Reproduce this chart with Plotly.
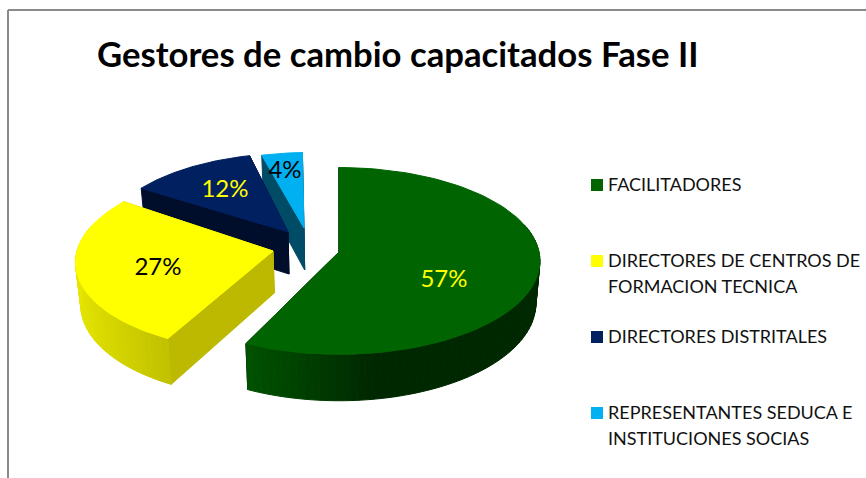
import numpy as np
import plotly.graph_objects as go

# ---- data ----
categories = ["FACILITADORES", "DIRECTORES DE CENTROS DE FORMACION TECNICA",
              "DIRECTORES DISTRITALES", "REPRESENTANTES SEDUCA E INSTITUCIONES SOCIAS"]
values = [57, 27, 12, 4]
title = "Gestores de cambio capacitados Fase II"
legend_lines = [["FACILITADORES"],
                ["DIRECTORES DE CENTROS DE", "FORMACION TECNICA"],
                ["DIRECTORES DISTRITALES"],
                ["REPRESENTANTES SEDUCA E", "INSTITUCIONES SOCIAS"]]

# ---- styles and layout ----
FONT = "Lato"
top_col = ["#006400", "#FFFF00", "#002060", "#00B0F0"]
radial_col = ["#001a00", "#bcb900", "#000d2b", "#004b66"]
wall_hi = [(0, 82, 0), (230, 230, 0), (0, 13, 43), (0, 75, 102)]
wall_lo = [(0, 40, 0), (192, 192, 0), (0, 13, 43), (0, 75, 102)]
wall_u = [(-0.42, 0.15), (-1.0, -0.45), (-1, 1), (-1, 1)]
label_col = ["#FFFF00", "#000000", "#FFFF00", "#000000"]
apex = [(339, 252), (273, 251), (288, 232), (304, 228)]
radius = [0.995, 0.975, 0.92, 0.88]
turn_deg = [0.0, 2.5, 0.0, -1.5]   # small perspective correction of each slice
label_xy = [(444, 281), (158, 269), (225, 191), (285, 172)]
swatch_y = [185, 261, 337, 413]
line_step = 26
RX, RY, K, DEPTH, VX, BOTTOM = 201.0, 93.0, 0.096, 42.0, 338.0, 0.98


def project(a, theta, r, bottom=False):
    u, v = np.sin(theta) * r, np.cos(theta) * r
    s = 1 / (1 + K * v)
    x = VX + (a[0] - VX + RX * u) * s
    y = a[1] - RY * v * s
    if bottom:
        x = VX + (x - VX) * BOTTOM
        y = y + DEPTH * s
    return x, y


def poly(fig, pts, color, line=None):
    xs = [p[0] for p in pts] + [pts[0][0]]
    ys = [p[1] for p in pts] + [pts[0][1]]
    fig.add_trace(go.Scatter(x=xs, y=ys, mode="lines", fill="toself", fillcolor=color,
                             line=dict(color=line or color, width=1),
                             hoverinfo="skip", showlegend=False))


fig = go.Figure()
total = sum(values)
edges = 2 * np.pi * np.cumsum([0] + values) / total

# far slices first, the big front slice last
for i in [3, 2, 1, 0]:
    off = np.radians(turn_deg[i])
    t0, t1 = edges[i] + off, edges[i + 1] + off
    a, r = apex[i], radius[i]
    for t in (t1, t0):
        poly(fig, [project(a, t, 0), project(a, t, r), project(a, t, r, True), project(a, t, 0, True)],
             radial_col[i])
    n = max(6, int((t1 - t0) / np.radians(2)))
    ts = np.linspace(t0, t1, n + 1)
    for j in range(n):
        tm = (ts[j] + ts[j + 1]) / 2
        if np.cos(tm) > 0.3:
            continue
        f = np.clip((np.sin(tm) - wall_u[i][0]) / (wall_u[i][1] - wall_u[i][0]), 0, 1)
        c = [round(h + (l - h) * f) for h, l in zip(wall_hi[i], wall_lo[i])]
        col = "rgb(%d,%d,%d)" % tuple(c)
        poly(fig, [project(a, ts[j], r), project(a, ts[j + 1], r),
                   project(a, ts[j + 1], r, True), project(a, ts[j], r, True)], col)
    arc = np.linspace(t0, t1, 90)
    poly(fig, [project(a, 0, 0)] + [project(a, t, r) for t in arc], top_col[i])

# percentage labels
for i, (v, (lx, ly)) in enumerate(zip(values, label_xy)):
    fig.add_trace(go.Scatter(x=[lx], y=[ly], mode="text", text=["%d%%" % v],
                             textposition="middle center",
                             textfont=dict(family=FONT, size=24, color=label_col[i]),
                             hoverinfo="skip", showlegend=False))

# legend
for i, lines in enumerate(legend_lines):
    fig.add_trace(go.Scatter(x=[597], y=[swatch_y[i]], mode="markers", name=categories[i],
                             marker=dict(symbol="square", size=12, color=top_col[i]),
                             hoverinfo="skip", showlegend=False))
    for k, ln in enumerate(lines):
        fig.add_annotation(x=606, y=swatch_y[i] - 1 + k * line_step, text=ln, showarrow=False,
                           xanchor="left", yanchor="middle", xref="x", yref="y",
                           font=dict(family=FONT, size=18, color="#111111"))

fig.add_annotation(x=398, y=53, text="<b>%s</b>" % title, showarrow=False, xref="x", yref="y",
                   xanchor="center", yanchor="middle",
                   font=dict(family=FONT, size=34.7, color="#000000"))

# chart area frame (top and left edges are in view)
frame = dict(type="line", xref="x", yref="y", line=dict(color="#8a8a8a", width=2))
fig.add_shape(x0=8, x1=8, y0=10, y1=478, **frame)
fig.add_shape(x0=8, x1=866, y0=10, y1=10, **frame)

fig.update_xaxes(range=[0, 866], visible=False, fixedrange=True)
fig.update_yaxes(range=[478, 0], visible=False, fixedrange=True)
fig.update_layout(width=866, height=478, margin=dict(l=0, r=0, t=0, b=0),
                  paper_bgcolor="white", plot_bgcolor="white", showlegend=False)
fig.write_html("out.html", post_script="document.body.style.margin='0';document.body.style.overflow='hidden';",
               config={"displayModeBar": False})
